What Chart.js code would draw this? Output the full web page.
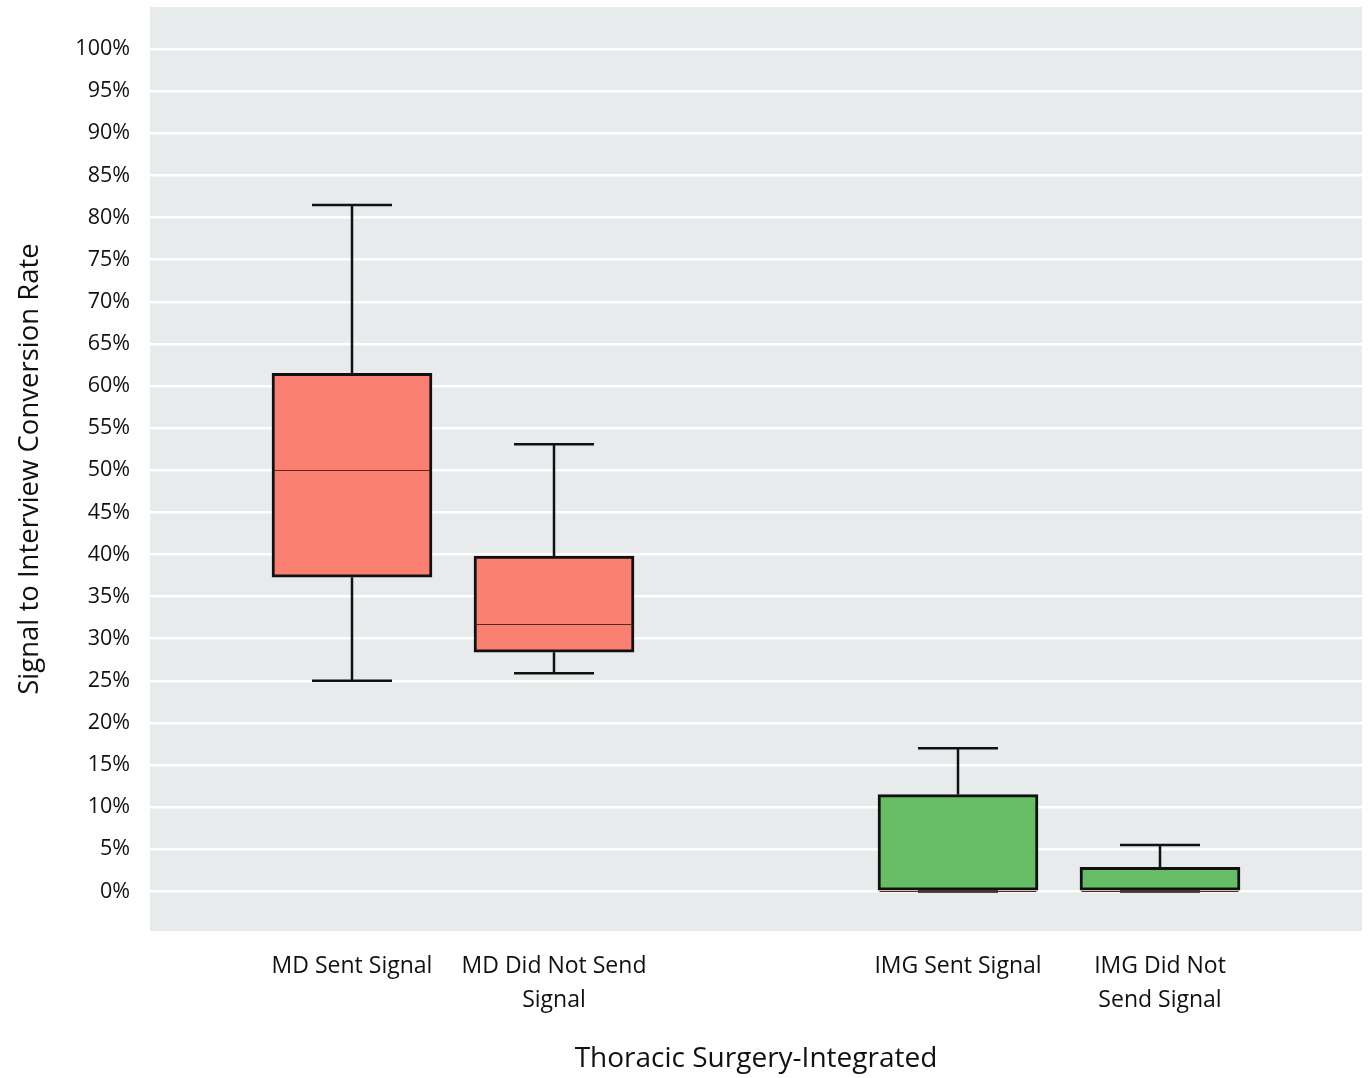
<!DOCTYPE html>
<html>
<head>
<meta charset="utf-8">
<script src="https://cdn.jsdelivr.net/npm/chart.js@4.4.1/dist/chart.umd.min.js"></script>
<style>
html,body{margin:0;padding:0;background:#fff;}
#wrap{width:1370px;height:1078px;}
</style>
</head>
<body>
<div id="wrap"><canvas id="c" width="1370" height="1078"></canvas></div>
<script>
const categories = ["", "MD Sent Signal", ["MD Did Not Send", "Signal"], "", "IMG Sent Signal", ["IMG Did Not", "Send Signal"], ""];
const minVals    = [null, 25.0, 25.9, null, 0.0, 0.0, null];
const q1Vals     = [null, 37.3, 28.4, null, 0.0, 0.0, null];
const medianVals = [null, 50.0, 31.8, null, 0.0, 0.0, null];
const q3Vals     = [null, 61.5, 39.8, null, 11.5, 2.85, null];
const maxVals    = [null, 81.5, 53.1, null, 17.0, 5.5, null];
const boxColors  = [null, "#FA8072", "#FA8072", null, "#66BD63", "#66BD63", null];
const yTicks = [0,5,10,15,20,25,30,35,40,45,50,55,60,65,70,75,80,85,90,95,100];

const FONT = "'Open Sans', 'Noto Sans', sans-serif";

const boxData = q1Vals.map((q, i) => q === null ? null : [q, q3Vals[i]]);

const bgPlugin = {
  id: 'bg',
  beforeDraw(chart) {
    const {ctx, chartArea: a} = chart;
    ctx.save();
    ctx.fillStyle = '#E8EBEC';
    ctx.fillRect(a.left, a.top, a.right - a.left, a.bottom - a.top);
    ctx.restore();
  }
};

const boxPlugin = {
  id: 'boxWhiskers',
  beforeDatasetsDraw(chart) {
    const ctx = chart.ctx;
    const y = chart.scales.y;
    const meta = chart.getDatasetMeta(0);
    ctx.save();
    ctx.strokeStyle = '#111';
    ctx.lineWidth = 2.5;
    meta.data.forEach((bar, i) => {
      if (q1Vals[i] === null) return;
      const x = bar.x;
      const half = bar.width / 4;
      const yMin = y.getPixelForValue(minVals[i]);
      const yMax = y.getPixelForValue(maxVals[i]);
      const yQ1 = y.getPixelForValue(q1Vals[i]);
      const yQ3 = y.getPixelForValue(q3Vals[i]);
      ctx.beginPath();
      ctx.moveTo(x, yQ3); ctx.lineTo(x, yMax);
      ctx.moveTo(x, yQ1); ctx.lineTo(x, yMin);
      ctx.moveTo(x - half, yMax); ctx.lineTo(x + half, yMax);
      ctx.moveTo(x - half, yMin); ctx.lineTo(x + half, yMin);
      ctx.stroke();
    });
    ctx.restore();
  },
  afterDatasetsDraw(chart) {
    const ctx = chart.ctx;
    const y = chart.scales.y;
    const meta = chart.getDatasetMeta(0);
    ctx.save();
    ctx.strokeStyle = '#5a2a22';
    ctx.lineWidth = 1;
    meta.data.forEach((bar, i) => {
      if (q1Vals[i] === null) return;
      const hw = bar.width / 2 - 1.5;
      const ym = Math.round(y.getPixelForValue(medianVals[i])) + 0.5;
      ctx.beginPath();
      ctx.moveTo(bar.x - hw, ym); ctx.lineTo(bar.x + hw, ym);
      ctx.stroke();
    });
    ctx.restore();
  }
};

new Chart(document.getElementById('c'), {
  type: 'bar',
  data: {
    labels: categories,
    datasets: [{
      data: boxData,
      backgroundColor: boxColors,
      borderColor: '#111',
      borderWidth: 3,
      borderSkipped: false,
      barThickness: 160
    }]
  },
  options: {
    responsive: false,
    animation: false,
    layout: { padding: { top: 7, right: 8, left: 14, bottom: 2 } },
    plugins: { legend: { display: false }, tooltip: { enabled: false } },
    scales: {
      x: {
        type: 'category',
        offset: false,
        grid: { display: false, drawTicks: false },
        border: { display: false },
        ticks: {
          color: '#111',
          font: { family: FONT, size: 23, lineHeight: 1.45 },
          padding: 19,
          maxRotation: 0,
          autoSkip: false,
          callback: function(v, i) { return categories[i]; }
        },
        title: {
          display: true,
          text: 'Thoracic Surgery-Integrated',
          color: '#111',
          font: { family: FONT, size: 28 },
          padding: { top: 14, bottom: 0 }
        },
        afterFit(s) { s.height = 145; s.paddingLeft = 0; s.paddingRight = 0; }
      },
      y: {
        min: -4.7,
        max: 105.0,
        grid: { color: '#ffffff', lineWidth: 2.5, drawTicks: false },
        border: { display: false },
        afterBuildTicks(s) { s.ticks = yTicks.map(v => ({ value: v })); },
        ticks: {
          color: '#111',
          font: { family: FONT, size: 21.5 },
          padding: 20,
          callback: v => v + '%'
        },
        title: {
          display: true,
          text: 'Signal to Interview Conversion Rate',
          color: '#111',
          font: { family: FONT, size: 27.5 },
          padding: { top: 0, bottom: 2 }
        },
        afterFit(s) { s.width = 136; s.paddingTop = 0; s.paddingBottom = 0; }
      }
    }
  },
  plugins: [bgPlugin, boxPlugin]
});
</script>
</body>
</html>
